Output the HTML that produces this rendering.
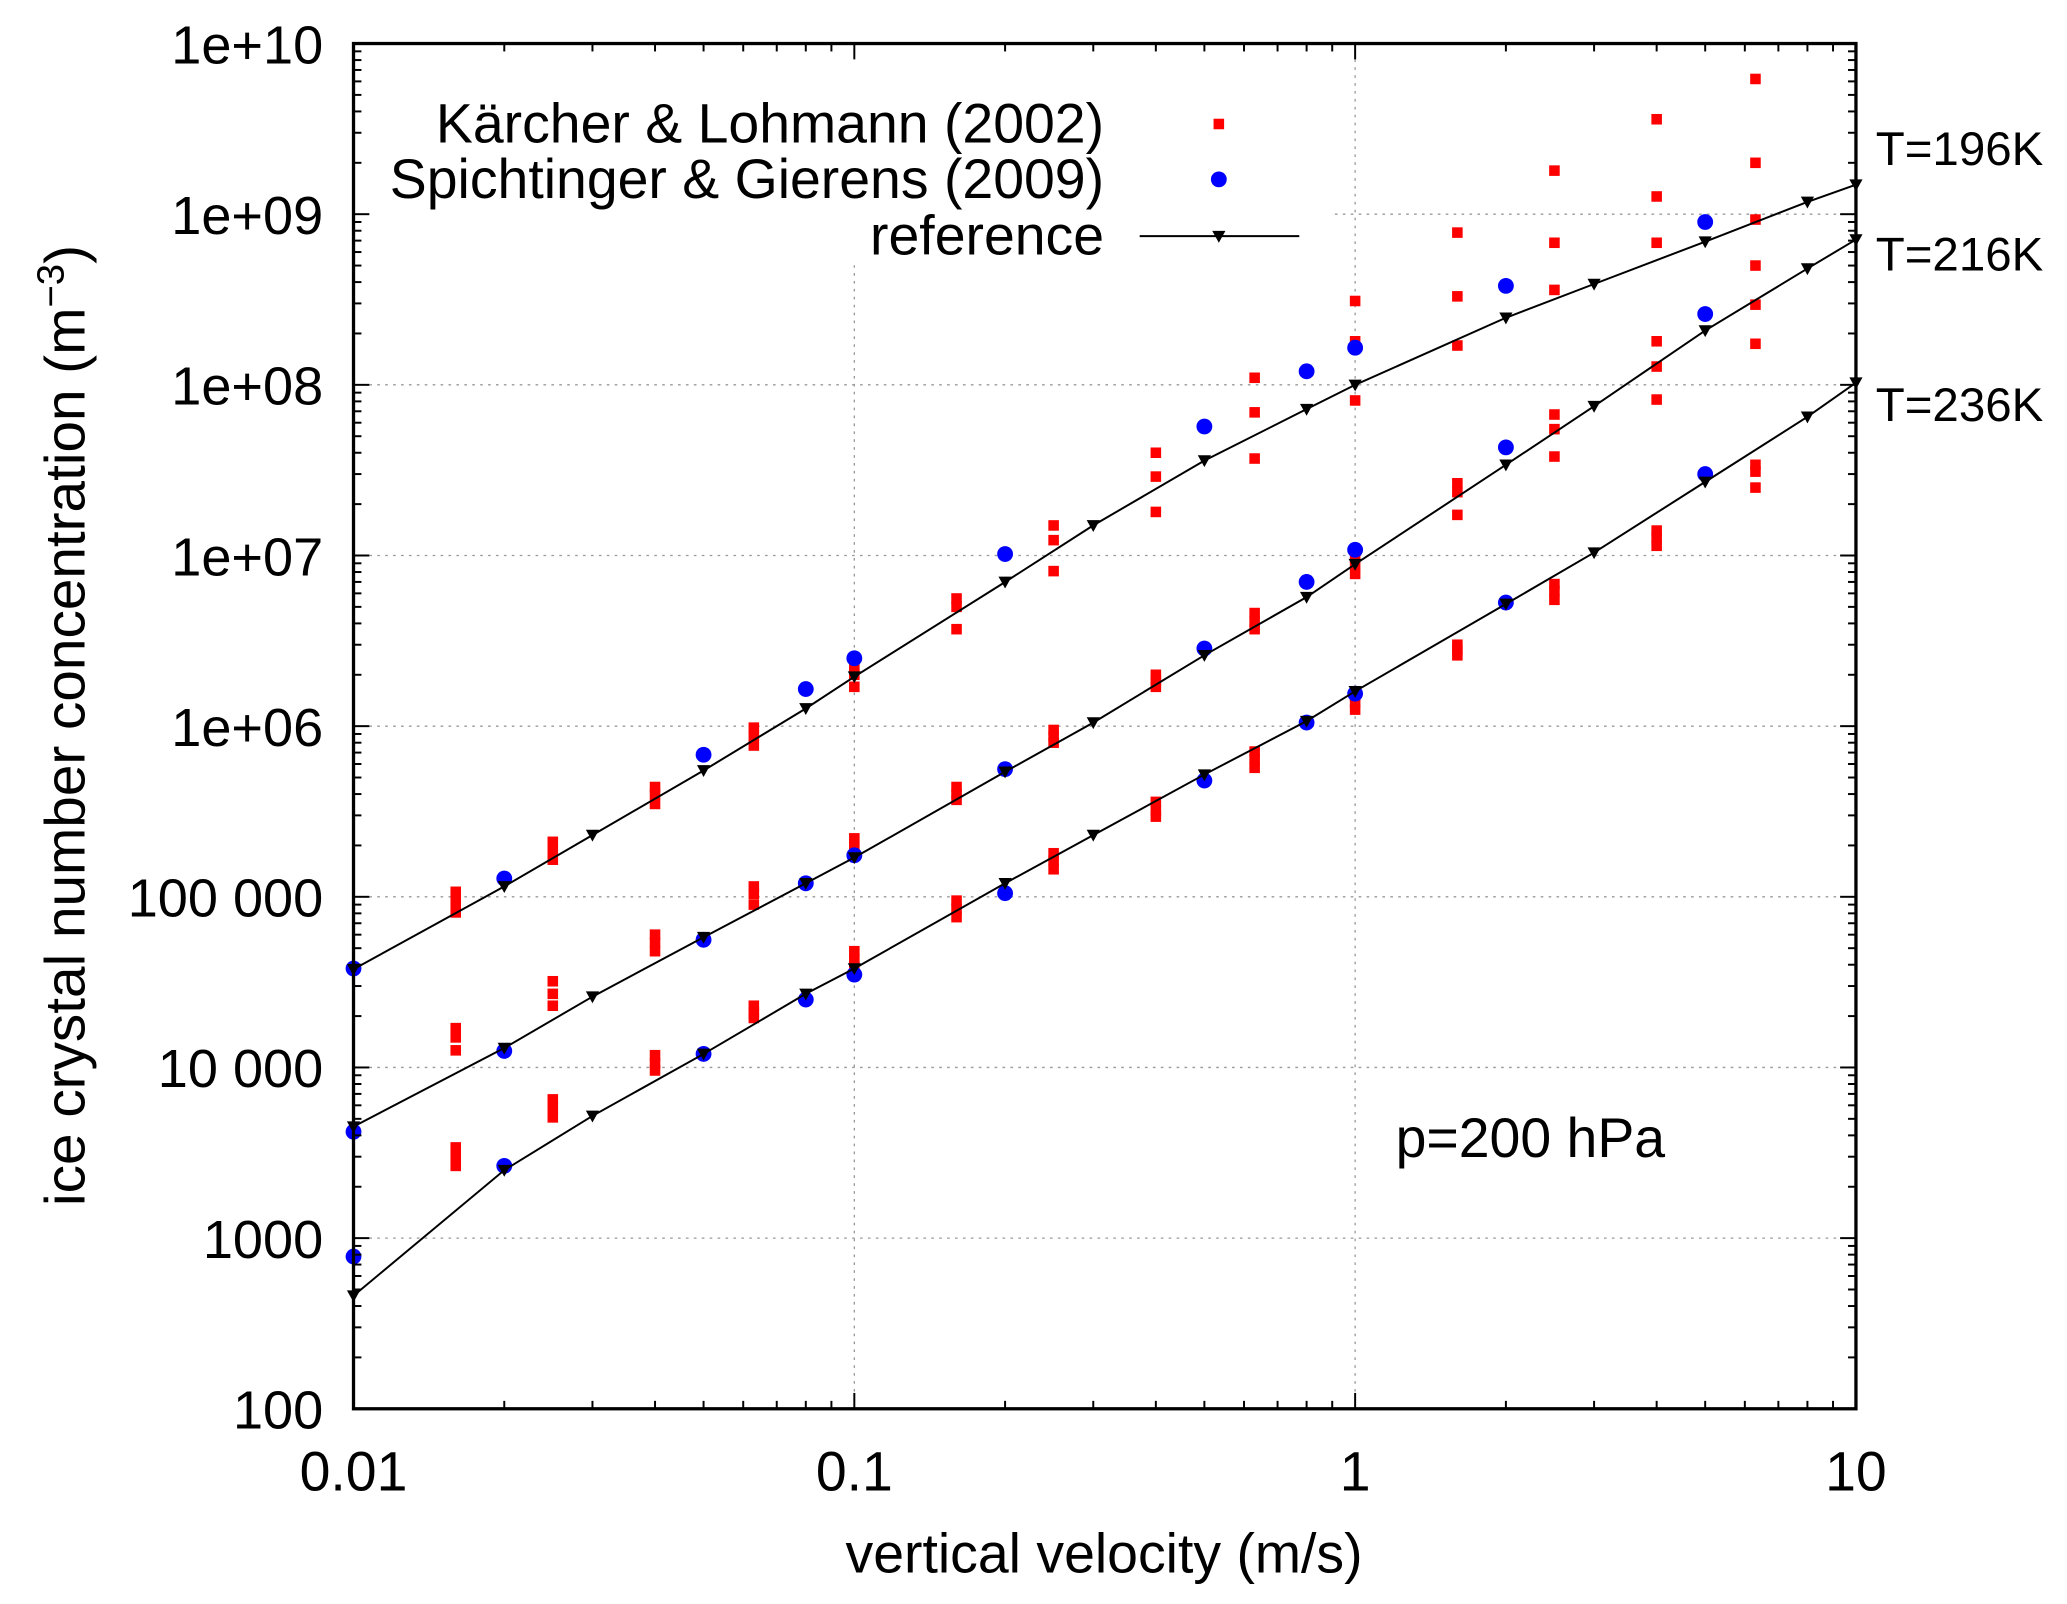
<!DOCTYPE html>
<html><head><meta charset="utf-8"><style>
html,body{margin:0;padding:0;background:#fff}
svg{display:block}
text{font-family:"Liberation Sans",sans-serif;fill:#000}
</style></head><body>
<svg id="chart" width="2067" height="1604" viewBox="0 0 1567 1216" preserveAspectRatio="none" xmlns="http://www.w3.org/2000/svg">
<g id="grid"></g>
<rect x="270" y="35" width="740" height="166" fill="#fff"/>
<g id="marks"></g>
<g id="axes"></g>
<g id="legend">
<text x="837" y="108" font-size="42" text-anchor="end">Kärcher &amp; Lohmann (2002)</text>
<rect x="920" y="90" width="8" height="8" fill="#f00"/>
<text x="837" y="150" font-size="42" text-anchor="end">Spichtinger &amp; Gierens (2009)</text>
<circle cx="924" cy="136" r="6" fill="#00f"/>
<text x="837" y="193" font-size="42" text-anchor="end">reference</text>
<line x1="864" y1="179" x2="985" y2="179" stroke="#000" stroke-width="1.5"/>
<path d="M919,175 L929,175 L924,184 Z" fill="#000"/>
</g>
<text x="1422" y="125" font-size="36">T=196K</text>
<text x="1422" y="205" font-size="36">T=216K</text>
<text x="1422" y="319" font-size="36">T=236K</text>
<text x="1058" y="877" font-size="42">p=200 hPa</text>
<text x="837" y="1192" font-size="42" text-anchor="middle">vertical velocity (m/s)</text>
<text transform="translate(64,550) rotate(-90)" font-size="43" text-anchor="middle">ice crystal number concentration (m<tspan font-size="29" dy="-16">−3</tspan><tspan dy="16">)</tspan></text>
</svg>
<script>
const xTickValues=[0.01,0.1,1,10];
const xTickLabels=["0.01","0.1","1","10"];
const yTickValues=[1e2,1e3,1e4,1e5,1e6,1e7,1e8,1e9,1e10];
const yTickLabels=["100","1000","10 000","100 000","1e+06","1e+07","1e+08","1e+09","1e+10"];
const refW=[0.01,0.02,0.03,0.05,0.08,0.1,0.2,0.3,0.5,0.8,1,2,3,5,8,10];
const ref196=[3.76e4,1.15e5,2.3e5,5.5e5,1.27e6,1.95e6,7e6,1.5e7,3.6e7,7.2e7,1e8,2.47e8,3.9e8,6.9e8,1.18e9,1.49e9];
const ref216=[4.5e3,1.3e4,2.6e4,5.8e4,1.2e5,1.7e5,5.4e5,1.05e6,2.6e6,5.7e6,8.9e6,3.4e7,7.5e7,2.08e8,4.8e8,7.1e8];
const ref236=[460,2.5e3,5.2e3,1.2e4,2.7e4,3.8e4,1.2e5,2.3e5,5.2e5,1.07e6,1.6e6,5.2e6,1.04e7,2.7e7,6.5e7,1.03e8];
const sgW=[0.01,0.02,0.05,0.08,0.1,0.2,0.5,0.8,1,2,5];
const sg196=[3.8e4,1.28e5,6.8e5,1.65e6,2.5e6,1.02e7,5.7e7,1.2e8,1.65e8,3.8e8,9e8];
const sg216=[4200,1.25e4,5.6e4,1.2e5,1.75e5,5.6e5,2.85e6,7e6,1.08e7,4.3e7,2.6e8];
const sg236=[780,2650,1.2e4,2.5e4,3.5e4,1.05e5,4.8e5,1.05e6,1.55e6,5.3e6,3e7];
const klW=[0.016,0.025,0.04,0.063,0.1,0.16,0.25,0.4,0.63,1,1.6,2.5,4,6.3];
const kl196=[[1.07e5,9.3e4,8.1e4],[2.1e5,1.85e5,1.65e5],[4.4e5,4e5,3.5e5],[9.8e5,8.8e5,7.7e5],[2.2e6,2e6,1.7e6],[5.6e6,5e6,3.7e6],[1.5e7,1.23e7,8.1e6],[4e7,2.9e7,1.8e7],[1.1e8,6.9e7,3.7e7],[3.1e8,1.8e8,8.1e7],[7.8e8,3.3e8,1.7e8],[1.8e9,6.8e8,3.6e8],[3.6e9,1.27e9,6.8e8],[6.2e9,2.0e9,9.3e8]];
const kl216=[[1.7e4,1.5e4,1.26e4],[3.2e4,2.7e4,2.3e4],[6e4,5.4e4,4.8e4],[1.15e5,1.04e5,9e4],[2.2e5,1.95e5,1.77e5],[4.4e5,4e5,3.7e5],[9.5e5,8.7e5,8e5],[2e6,1.85e6,1.7e6],[4.6e6,4.1e6,3.7e6],[9.7e6,8.9e6,7.8e6],[2.65e7,2.35e7,1.73e7],[6.7e7,5.5e7,3.8e7],[1.8e8,1.28e8,8.2e7],[5e8,2.95e8,1.74e8]];
const kl236=[[3400,3000,2650],[6500,5800,5100],[1.18e4,1.06e4,9600],[2.3e4,2.1e4,1.95e4],[4.8e4,4.3e4,3.9e4],[9.5e4,8.5e4,7.6e4],[1.8e5,1.63e5,1.45e5],[3.6e5,3.2e5,2.95e5],[7.1e5,6.4e5,5.7e5],[1.5e6,1.37e6,1.25e6],[3e6,2.8e6,2.6e6],[6.8e6,6.2e6,5.5e6],[1.4e7,1.27e7,1.14e7],[3.4e7,3.1e7,2.5e7]];

const L=268,R=1407,T=33,B=1068;
const X=v=>L+(Math.log10(v)+2)/3*(R-L);
const Y=v=>B-(Math.log10(v)-2)/8*(B-T);
const NS="http://www.w3.org/2000/svg";
function mk(tag,attrs,parent){const e=document.createElementNS(NS,tag);for(const k in attrs)e.setAttribute(k,attrs[k]);parent.appendChild(e);return e;}
const grid=document.getElementById('grid'),axes=document.getElementById('axes'),marks=document.getElementById('marks');
xTickValues.forEach((v,i)=>{
  if(i>0&&i<xTickValues.length-1){const g=mk('line',{x1:X(v),x2:X(v),y1:T,y2:B,stroke:'#999','stroke-dasharray':'2,4','stroke-width':1},grid);
  
  }
  const t=mk('text',{x:X(v),y:B+62,'font-size':42,'text-anchor':'middle'},axes);t.textContent=xTickLabels[i];
  
  
  for(let k=1;k<=9;k++){const xv=v*k;if(xv>10)break;const len=k==1?12:6;
    const a=mk('line',{x1:X(xv),x2:X(xv),y1:B,y2:B-len,stroke:'#000','stroke-width':1.5},axes);
    
    
    const b=mk('line',{x1:X(xv),x2:X(xv),y1:T,y2:T+len,stroke:'#000','stroke-width':1.5},axes);
    
    }
});
yTickValues.forEach((v,i)=>{
  if(i>0&&i<yTickValues.length-1){const g=mk('line',{x1:L,x2:R,y1:Y(v),y2:Y(v),stroke:'#999','stroke-dasharray':'2,4','stroke-width':1},grid);
  
  }
  const t=mk('text',{x:245,y:Y(v)+15,'font-size':41,'text-anchor':'end'},axes);t.textContent=yTickLabels[i];
  
  
  for(let k=1;k<=9;k++){const yv=v*k;if(yv>1e10)break;const len=k==1?12:6;
    const a=mk('line',{x1:L,x2:L+len,y1:Y(yv),y2:Y(yv),stroke:'#000','stroke-width':1.5},axes);
    
    
    const b=mk('line',{x1:R,x2:R-len,y1:Y(yv),y2:Y(yv),stroke:'#000','stroke-width':1.5},axes);
    
    }
});
const frame=mk('rect',{x:L,y:T,width:R-L,height:B-T,fill:'none',stroke:'#000','stroke-width':2.5},axes);



[[kl196,'196'],[kl216,'216'],[kl236,'236']].forEach(([arr,n])=>{
  arr.forEach((vals,i)=>vals.forEach(v=>{
    const r=mk('rect',{x:X(klW[i])-4,y:Y(v)-4,width:8,height:8,fill:'#f00'},marks);
    
    
  }));
});
[[sg196,'196'],[sg216,'216'],[sg236,'236']].forEach(([arr,n])=>{
  arr.forEach((v,i)=>{
    const c=mk('circle',{cx:X(sgW[i]),cy:Y(v),r:6,fill:'#00f'},marks);
    
    
  });
});
[[ref196,'196'],[ref216,'216'],[ref236,'236']].forEach(([arr,n])=>{
  const d=arr.map((v,i)=>(i?'L':'M')+X(refW[i]).toFixed(1)+','+Y(v).toFixed(1)).join(' ');
  const p=mk('path',{d:d,fill:'none',stroke:'#000','stroke-width':1.5},marks);
  
  
  arr.forEach((v,i)=>{const x=X(refW[i]),y=Y(v);
    const t=mk('path',{d:`M${x-5},${y-4} L${x+5},${y-4} L${x},${y+5} Z`,fill:'#000'},marks);
    
    });
});
</script>
</body></html>
